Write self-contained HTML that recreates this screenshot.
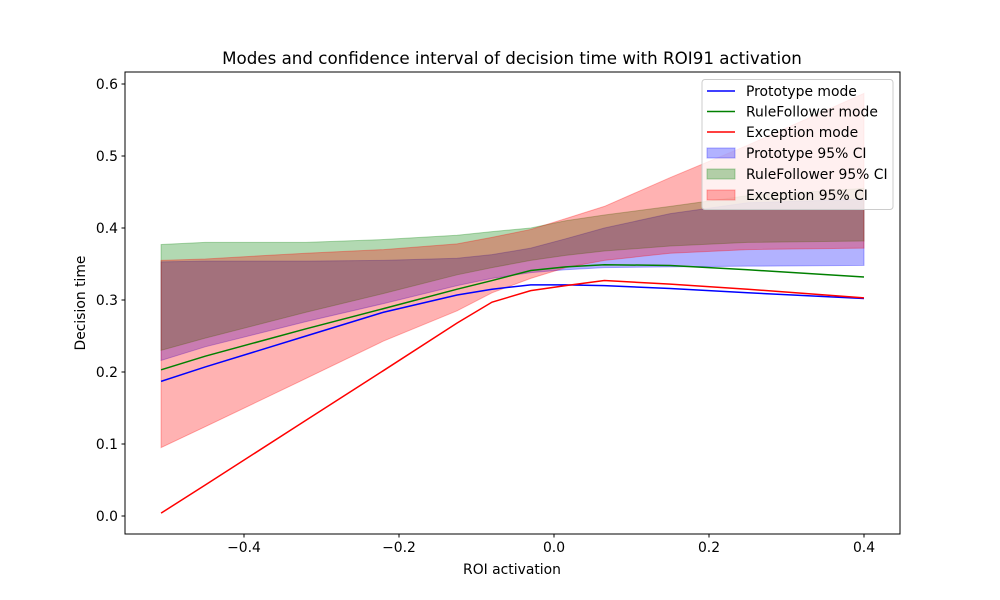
<!DOCTYPE html>
<html><head><meta charset="utf-8"><style>
body{margin:0;background:#fff;}
svg{display:block;font-family:"DejaVu Sans","Liberation Sans",sans-serif;}
</style></head><body>
<svg id="chart" width="1000" height="600"></svg>
<script>
const xs=[-0.507,-0.45,-0.32,-0.22,-0.125,-0.08,-0.03,0.015,0.065,0.15,0.25,0.4];
const protoMode=[0.187,0.207,0.25,0.283,0.307,0.315,0.321,0.321,0.32,0.316,0.31,0.302];
const ruleMode=[0.203,0.222,0.26,0.288,0.315,0.327,0.341,0.346,0.349,0.348,0.342,0.332];
const excMode=[0.004,0.043,0.133,0.202,0.268,0.297,0.313,0.32,0.327,0.322,0.315,0.303];
const protoLo=[0.216,0.235,0.27,0.295,0.32,0.33,0.338,0.342,0.345,0.346,0.347,0.348];
const protoHi=[0.353,0.354,0.354,0.355,0.358,0.363,0.372,0.385,0.4,0.42,0.435,0.44];
const ruleLo=[0.23,0.247,0.283,0.309,0.335,0.345,0.355,0.362,0.368,0.375,0.38,0.382];
const ruleHi=[0.377,0.38,0.38,0.384,0.39,0.395,0.4,0.41,0.418,0.43,0.445,0.455];
const excLo=[0.095,0.124,0.191,0.243,0.285,0.31,0.33,0.345,0.355,0.365,0.37,0.372];
const excHi=[0.355,0.357,0.365,0.37,0.378,0.387,0.398,0.413,0.43,0.47,0.515,0.587];
const xTicks=[-0.4,-0.2,0.0,0.2,0.4];
const yTicks=[0.0,0.1,0.2,0.3,0.4,0.5,0.6];

const NS="http://www.w3.org/2000/svg";
const svg=document.getElementById('chart');
const L=125,R=900,T=72,B=534;
const X=v=>554+v*775;
const Y=v=>516-v*720;
function el(t,a,p){const e=document.createElementNS(NS,t);for(const k in a)e.setAttribute(k,a[k]);(p||svg).appendChild(e);return e;}
function band(lo,hi,fill,stroke,name){
  let d='M'+xs.map((x,i)=>X(x)+','+Y(hi[i])).join('L');
  d+='L'+xs.map((x,i)=>X(x)+','+Y(lo[i])).reverse().join('L')+'Z';
  const p=el('path',{d:d,fill:fill,'fill-opacity':0.3,stroke:stroke,'stroke-opacity':0.3,'stroke-width':1});
  
  
}
function line(ys,c,name){
  const p=el('polyline',{points:xs.map((x,i)=>X(x)+','+Y(ys[i])).join(' '),fill:'none',stroke:c,'stroke-width':1.5});
  
  
}
band(protoLo,protoHi,'#0000ff','#0000ff','prototype-ci-band');
band(ruleLo,ruleHi,'#008000','#008000','rulefollower-ci-band');
band(excLo,excHi,'#ff0000','#ff0000','exception-ci-band');
line(protoMode,'#0000ff','prototype-mode-line');
line(ruleMode,'#008000','rulefollower-mode-line');
line(excMode,'#ff0000','exception-mode-line');
const frame=el('rect',{x:L,y:T,width:R-L,height:B-T,fill:'none',stroke:'#000','stroke-width':1});


xTicks.forEach(v=>{
  el('line',{x1:X(v),x2:X(v),y1:B,y2:B+3.5,stroke:'#000'});
  const t=el('text',{x:X(v),y:B+18,'font-size':13.9,'text-anchor':'middle'});
  t.textContent=(v<0?'\u2212':'')+Math.abs(v).toFixed(1);
  
  
});
yTicks.forEach(v=>{
  el('line',{x1:L-3.5,x2:L,y1:Y(v),y2:Y(v),stroke:'#000'});
  const t=el('text',{x:L-7,y:Y(v)+5,'font-size':13.9,'text-anchor':'end'});
  t.textContent=v.toFixed(1);
  
  
});
</script>
<svg width="1000" height="600" style="position:absolute;left:0;top:0">
<text x="512" y="64" font-size="16.7" text-anchor="middle">Modes and confidence interval of decision time with ROI91 activation</text>
<text x="512" y="574" font-size="13.9" text-anchor="middle">ROI activation</text>
<text x="0" y="0" font-size="13.9" text-anchor="middle" transform="translate(85,303) rotate(-90)">Decision time</text>
<g font-size="13.9">
<rect x="702" y="79.5" width="191" height="130" rx="3" fill="#fff" fill-opacity="0.8" stroke="#ccc"/>
<g><line x1="707" x2="735" y1="91" y2="91" stroke="#0000ff" stroke-width="1.5"/><text x="746" y="96">Prototype mode</text></g>
<g><line x1="707" x2="735" y1="111.5" y2="111.5" stroke="#008000" stroke-width="1.5"/><text x="746" y="116.5">RuleFollower mode</text></g>
<g><line x1="707" x2="735" y1="132" y2="132" stroke="#ff0000" stroke-width="1.5"/><text x="746" y="137">Exception mode</text></g>
<g><rect x="707" y="148" width="28" height="10" fill="#0000ff" fill-opacity="0.3" stroke="#0000ff" stroke-opacity="0.3"/><text x="746" y="158">Prototype 95% CI</text></g>
<g><rect x="707" y="169" width="28" height="10" fill="#008000" fill-opacity="0.3" stroke="#008000" stroke-opacity="0.3"/><text x="746" y="179">RuleFollower 95% CI</text></g>
<g><rect x="707" y="190" width="28" height="10" fill="#ff0000" fill-opacity="0.3" stroke="#ff0000" stroke-opacity="0.3"/><text x="746" y="200">Exception 95% CI</text></g>
</g>
</svg>
</body></html>
